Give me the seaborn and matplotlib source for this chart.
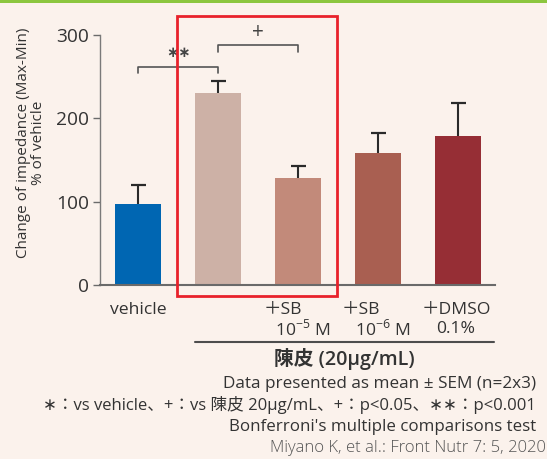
import matplotlib
matplotlib.use("Agg")
import matplotlib.pyplot as plt
import matplotlib.transforms as mtransforms
from matplotlib.patches import Rectangle
import seaborn as sns
import pandas as pd
import numpy as np

# Bar data: change of impedance (% of vehicle), mean and SEM
groups = ["vehicle", "陳皮", "陳皮+SB 10-5M", "陳皮+SB 10-6M", "陳皮+DMSO"]
means = [97, 230, 128, 158, 179]
sems = [23, 15, 15, 24, 39]
colors = ["#0066B2", "#CDB1A6", "#C28A7A", "#A95F51", "#962E35"]
yticks = [0, 100, 200, 300]

sns.set_theme(style="ticks")
plt.rcParams["font.family"] = ["Open Sans", "Noto Sans CJK JP", "DejaVu Sans"]
bg = "#FBF2EC"
txt = "#333333"

W, H = 547, 459
fig = plt.figure(figsize=(W / 100, H / 100), dpi=100, facecolor=bg)
ax = fig.add_axes([100 / W, 1 - 285 / H, 395 / W, 250 / H])
ax.set_facecolor(bg)

df = pd.DataFrame({"group": groups, "mean": means})
sns.barplot(data=df, x="group", y="mean", hue="group", palette=colors,
            width=0.575, saturation=1, legend=False, errorbar=None, ax=ax,
            linewidth=0, zorder=2)

# one-sided (upper) error bars
eb = ax.errorbar(range(len(means)), means, yerr=[np.zeros(len(sems)), sems],
                 fmt="none", ecolor="#2a2a2a", elinewidth=1.5, capsize=5.4,
                 capthick=1.6, zorder=3)
for cap in eb[1]:
    if np.allclose(cap.get_ydata(), means):
        cap.set_visible(False)

ax.set_ylim(0, 300)
ax.set_xlim(-0.475, 4.4625)
ax.set_yticks(yticks)
ax.set_xlabel("")
ax.set_ylabel("")
ax.tick_params(axis="x", length=0, labelbottom=False)
ax.tick_params(axis="y", length=5, width=1, color="#6b6b6b", labelsize=13.8,
               labelcolor=txt, pad=3)
for s in ("top", "right"):
    ax.spines[s].set_visible(False)
ax.spines["left"].set_color("#7a7a7a")
ax.spines["left"].set_linewidth(1)
ax.spines["bottom"].set_color("#6a6a6a")
ax.spines["bottom"].set_linewidth(1.5)

fig.text(31 / W, 1 - 143 / H, "Change of impedance (Max-Min)\n% of vehicle",
         rotation=90, ha="center", va="center", multialignment="center",
         fontsize=11, color=txt, linespacing=1.05)

# significance brackets
bk = dict(color="#555555", lw=1.2, clip_on=False, zorder=4)
ax.plot([0, 0, 1, 1], [254, 262, 262, 254], **bk)
ax.plot([1, 1, 2, 2], [280, 288, 288, 280], **bk)
ax.text(0.5, 278, "∗∗", ha="center", va="center", fontsize=10.5, color="#444444",
        fontweight="bold", clip_on=False)
ax.text(1.5, 303, "+", ha="center", va="center", fontsize=15, color="#444444",
        clip_on=False)

# highlight box around the 陳皮 groups
ax.add_patch(Rectangle((0.4875, -13.2), 2.0, 336, fill=False, ec="#E8222B",
                       lw=2, clip_on=False, zorder=5))

# category labels below the axis
bt = mtransforms.blended_transform_factory(ax.transData, fig.transFigure)
r1, r2 = 1 - 310 / H, 1 - 329 / H
lab = dict(transform=bt, ha="center", va="center", fontsize=12.6, color=txt)
ax.text(0, r1, "vehicle", **lab)
ax.text(1.81, r1, "＋SB", **lab)
ax.text(2.06, r2, r"10$^{\mathregular{-5}}$ M", **lab)
ax.text(2.79, r1, "＋SB", **lab)
ax.text(3.06, r2, r"10$^{\mathregular{-6}}$ M", **lab)
ax.text(3.975, r1, "＋DMSO", **lab)
ax.text(3.975, r2, "0.1%", **lab)

ax.plot([0.7125, 4.45], [1 - 342 / H] * 2, transform=bt, color="#4d4d4d",
        lw=1.5, clip_on=False)
ax.text(2.575, 1 - 359 / H, "陳皮 (20μg/mL)", transform=bt, ha="center",
        va="center", fontsize=14.2, color=txt, fontweight="semibold")

# footnotes
fx = 536 / W
fig.text(fx, 1 - 384 / H, "Data presented as mean ± SEM (n=2x3)", ha="right",
         va="center", fontsize=12.3, color=txt)
fig.text(fx, 1 - 405 / H,
         "∗：vs vehicle、+：vs 陳皮 20μg/mL、+：p<0.05、∗∗：p<0.001",
         ha="right", va="center", fontsize=12.0, color=txt)
fig.text(fx, 1 - 427 / H, "Bonferroni's multiple comparisons test", ha="right",
         va="center", fontsize=12.2, color=txt)
fig.text(546 / W, 1 - 448 / H, "Miyano K, et al.: Front Nutr 7: 5, 2020",
         ha="right", va="center", fontsize=12.0, color="#555555",
         fontweight="light")

# green rule along the top edge
fig.add_artist(Rectangle((0, 1 - 3 / H), 1, 3 / H, transform=fig.transFigure,
                         color="#8CC63F", lw=0))

fig.savefig("out.png", dpi=100, facecolor=bg)
